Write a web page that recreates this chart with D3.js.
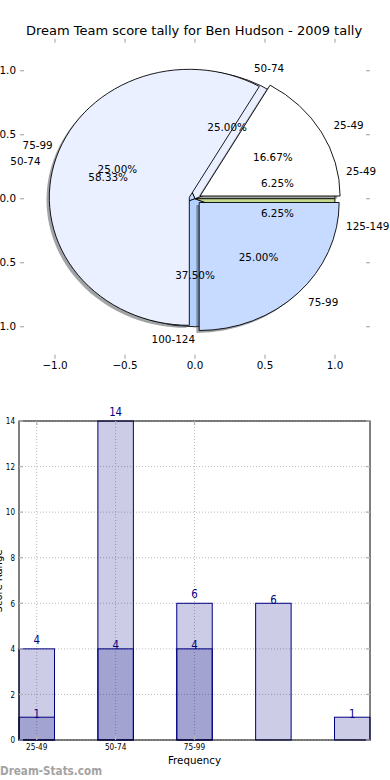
<!DOCTYPE html>
<html>
<head>
<meta charset="utf-8">
<script src="https://cdn.jsdelivr.net/npm/d3@7.9.0/dist/d3.min.js"></script>
<style>
  body { margin: 0; background: #fff; }
  svg { display: block; font-family: "DejaVu Sans", sans-serif; }
</style>
</head>
<body>
<svg id="chart" width="390" height="780"></svg>
<script>
// Score ranges and how many games fell in each one
const ranges = ['25-49', '50-74', '75-99', '100-124', '125-149'];
const tallyA = [4, 14, 6, 0, 0];   // top pie + light bars
const tallyB = [1, 4, 4, 6, 1];    // pie underneath + second bar layer
const rangeColors = ['#ffffff', '#eaf0ff', '#c6dbff', '#b3d1ff', '#c2d98e'];

// Tick values
const pieTicks = [-1, -0.5, 0, 0.5, 1];
const barTicks = [0, 2, 4, 6, 8, 10, 12, 14];
const barTickLabels = ['25-49', '50-74', '75-99'];

const title = 'Dream Team score tally for Ben Hudson - 2009 tally';

const svg = d3.select('#chart');
const fmtTick = d3.format('.1f');
const minus = (s) => s.replace('-', '\u2212');

// ---------- pie chart ----------
const px = d3.scaleLinear().domain([-1.25, 1.25]).range([20, 370]);
const py = d3.scaleLinear().domain([-1.25, 1.25]).range([358.7, 38.7]);
const sx = px(1) - px(0);
const sy = py(0) - py(1);

const arcGenerator = d3.arc().innerRadius(0).outerRadius(1);

// slices start at 3 o'clock and go counter-clockwise, like matplotlib
function pieSlices(values, explode) {
  const items = ranges
    .map((r, i) => ({ range: r, value: values[i], color: rangeColors[i] }))
    .filter(d => d.value > 0);
  const total = d3.sum(items, d => d.value);
  return d3.pie()
    .sort(null)
    .value(d => d.value)
    .startAngle(Math.PI / 2)
    .endAngle(Math.PI / 2 - 2 * Math.PI)(items)
    .map(a => {
      const theta = Math.PI / 2 - (a.startAngle + a.endAngle) / 2;
      return {
        ...a,
        theta,
        pct: a.value / total * 100,
        ex: explode * Math.cos(theta),
        ey: explode * Math.sin(theta)
      };
    });
}

const sliceB = pieSlices(tallyB, 0);
const sliceA = pieSlices(tallyA, 0.042);

const pieG = svg.append('g');

function drawWedges(slices, shadow) {
  slices.forEach(d => {
    const off = shadow ? -0.02 : 0;
    const c = d3.rgb(d.data.color);
    pieG.append('path')
      .attr('d', arcGenerator(d))
      .attr('transform', `translate(${px(d.ex + off)},${py(d.ey + off)}) scale(${sx},${sy})`)
      .attr('vector-effect', 'non-scaling-stroke')
      .attr('fill', shadow ? d3.rgb(c.r * 0.3, c.g * 0.3, c.b * 0.3) : d.data.color)
      .attr('fill-opacity', shadow ? 0.5 : 1)
      .attr('stroke', shadow ? 'none' : '#000')
      .attr('stroke-width', 0.9);
  });
}

drawWedges(sliceB, false);
drawWedges(sliceA, true);
drawWedges(sliceA, false);

function drawPieText(slices) {
  slices.forEach(d => {
    const c = Math.cos(d.theta), s = Math.sin(d.theta);
    pieG.append('text')
      .attr('x', px(d.ex + 1.1 * c))
      .attr('y', py(d.ey + 1.1 * s))
      .attr('dy', '0.36em')
      .attr('text-anchor', c > 1e-9 ? 'start' : 'end')
      .attr('font-size', 10.4)
      .text(d.data.range);
    pieG.append('text')
      .attr('x', px(d.ex + 0.6 * c))
      .attr('y', py(d.ey + 0.6 * s))
      .attr('dy', '0.36em')
      .attr('text-anchor', 'middle')
      .attr('font-size', 10.4)
      .text(d.pct.toFixed(2) + '%');
  });
}
drawPieText(sliceB);
drawPieText(sliceA);

// pie axes: no frame, just light tick marks and labels
const tickCol = '#b4b4b4';
pieTicks.forEach(v => {
  [[20, 24], [366, 370]].forEach(([a, b]) => {
    pieG.append('line').attr('x1', a).attr('x2', b).attr('y1', py(v)).attr('y2', py(v))
      .attr('stroke', tickCol).attr('stroke-width', 1.3);
  });
  [[358.7, 354.7], [38.7, 42.7]].forEach(([a, b]) => {
    pieG.append('line').attr('x1', px(v)).attr('x2', px(v)).attr('y1', a).attr('y2', b)
      .attr('stroke', tickCol).attr('stroke-width', 1.3);
  });
  pieG.append('text')
    .attr('x', 16).attr('y', py(v)).attr('dy', '0.36em')
    .attr('text-anchor', 'end').attr('font-size', 10.4)
    .text(minus(fmtTick(v)));
  pieG.append('text')
    .attr('x', px(v)).attr('y', 369)
    .attr('text-anchor', 'middle').attr('font-size', 10.4)
    .text(minus(fmtTick(v)));
});

svg.append('text')
  .attr('x', 194).attr('y', 34.5)
  .attr('text-anchor', 'middle').attr('font-size', 13)
  .text(title);

// ---------- bar chart ----------
const barW = 0.45;
const bx = d3.scaleLinear().domain([0, ranges.length - 1 + barW]).range([19, 370]);
const by = d3.scaleLinear().domain([0, 14]).range([740, 421]);

const barG = svg.append('g');

// dotted grid
barTicks.forEach(v => {
  barG.append('line').attr('x1', bx.range()[0]).attr('x2', bx.range()[1])
    .attr('y1', by(v)).attr('y2', by(v))
    .attr('stroke', '#bcbcbc').attr('stroke-dasharray', '1,2');
});
barTickLabels.forEach((t, i) => {
  barG.append('line').attr('x1', bx(i + barW / 2)).attr('x2', bx(i + barW / 2))
    .attr('y1', by(0)).attr('y2', by(14))
    .attr('stroke', '#bcbcbc').attr('stroke-dasharray', '1,2');
});

function drawBars(values, labelOffset) {
  values.forEach((v, i) => {
    if (!v) return;
    barG.append('rect')
      .attr('x', bx(i)).attr('width', bx(i + barW) - bx(i))
      .attr('y', by(v)).attr('height', by(0) - by(v))
      .attr('fill', 'navy').attr('fill-opacity', 0.2)
      .attr('stroke', 'navy').attr('stroke-width', 1);
  });
  values.forEach((v, i) => {
    if (!v) return;
    barG.append('text')
      .attr('transform', `translate(${bx(i + barW / 2)},${by(v) + labelOffset}) scale(0.85,1)`)
      .attr('text-anchor', 'middle').attr('font-size', 12)
      .attr('fill', 'navy')
      .text(v);
  });
}
drawBars(tallyA, -5);
drawBars(tallyB, 0.6);

// frame
barG.append('rect')
  .attr('x', bx.range()[0]).attr('y', by(14))
  .attr('width', bx.range()[1] - bx.range()[0]).attr('height', by(0) - by(14))
  .attr('fill', 'none').attr('stroke', '#000').attr('stroke-width', 1);

// ticks
barTicks.forEach(v => {
  [[19, 23], [366, 370]].forEach(([a, b]) => {
    barG.append('line').attr('x1', a).attr('x2', b).attr('y1', by(v)).attr('y2', by(v))
      .attr('stroke', tickCol).attr('stroke-width', 1.3);
  });
  barG.append('text')
    .attr('transform', `translate(15,${by(v) + 3.3}) scale(0.78,1)`)
    .attr('text-anchor', 'end').attr('font-size', 9.2)
    .text(v);
});
barTickLabels.forEach((t, i) => {
  const x = bx(i + barW / 2);
  [[740, 736], [421, 425]].forEach(([a, b]) => {
    barG.append('line').attr('x1', x).attr('x2', x).attr('y1', a).attr('y2', b)
      .attr('stroke', tickCol).attr('stroke-width', 1.3);
  });
  barG.append('text')
    .attr('transform', `translate(${x},${750}) scale(0.8,1)`)
    .attr('text-anchor', 'middle').attr('font-size', 9.2)
    .text(t);
});

barG.append('text')
  .attr('transform', 'translate(194.5,764) scale(0.92,1)')
  .attr('text-anchor', 'middle').attr('font-size', 11.2)
  .text('Frequency');

// y label sits mostly outside the page, as in the source image
barG.append('text')
  .attr('transform', 'translate(1.5,581) rotate(-90)')
  .attr('text-anchor', 'middle').attr('font-size', 10)
  .text('Score Range');

// watermark
svg.append('text')
  .attr('x', 0).attr('y', 775)
  .attr('font-size', 12).attr('font-weight', 'bold')
  .attr('fill', '#a3a3a3')
  .attr('textLength', 102).attr('lengthAdjust', 'spacingAndGlyphs')
  .text('Dream-Stats.com');
</script>
</body>
</html>
